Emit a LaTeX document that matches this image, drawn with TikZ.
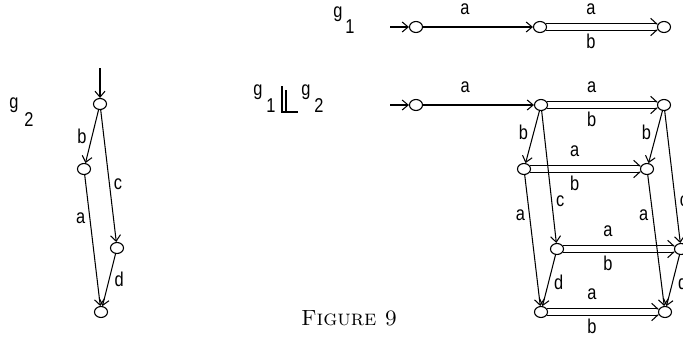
\documentclass[tikz,border=0pt]{standalone}
\usepackage{fontspec}
\newfontfamily\lab[FakeStretch=0.82]{Liberation Sans}
\usetikzlibrary{arrows.meta,shapes.geometric}
\newcommand\twoarr[4]{%
  \draw[ln,-{Straight Barb[left,length=6pt,width=11pt]}] (#1.28) -- (#2.152);
  \draw[ln,-{Straight Barb[right,length=6pt,width=11pt]}] (#1.-28) -- (#2.-152);
  \path (#1) -- node[lb,pos=0.4,yshift=18pt]{#3} node[lb,pos=0.4,yshift=-14pt]{#4} (#2);}
\begin{document}
\begin{tikzpicture}[x=1pt,y=-1pt,
  st/.style={draw,ellipse,minimum width=13pt,minimum height=11pt,inner sep=0pt,line width=1.1pt},
  ln/.style={line width=1.05pt},
  ar/.style={ln,-{Straight Barb[length=6pt,width=10pt]}},
  lb/.style={font=\lab\fontsize{20}{20}\selectfont,inner sep=0pt},
  gl/.style={font=\lab\fontsize{20}{20}\selectfont,inner sep=0pt}]
\useasboundingbox (0,0) rectangle (683,338);
\clip (0,0) rectangle (683,338);

% ---- g2 ----
\node[gl] (g2g) at (14,105) {g};
\node[gl] (g2i) at (29,120) {2};
\coordinate (t0) at (100,68);
\node[st] (N1) at (100,104) {};
\node[st] (N2) at (84,169) {};
\node[st] (N3) at (117,248) {};
\node[st] (N4) at (101,312) {};
\draw[ar] (t0) -- (N1);
\draw[ar] (N1) -- node[lb,pos=0.49,left=5pt]{b} (N2);
\draw[ar] (N1) -- node[lb,pos=0.56,right=4pt]{c} (N3);
\draw[ar] (N2) -- node[lb,pos=0.33,left=4pt]{a} (N4);
\draw[ar] (N3) -- node[lb,pos=0.49,right=5pt]{d} (N4);

% ---- g1 ----
\node[gl] (g1g) at (338,14) {g};
\node[gl] (g1i) at (350,27) {1};
\coordinate (s0) at (390,27);
\node[st] (P1) at (416,27) {};
\node[st] (P2) at (540,27) {};
\node[st] (P3) at (664,27) {};
\draw[ar] (s0) -- (P1);
\draw[ar] (P1) -- node[lb,pos=0.38,yshift=18pt]{a} (P2);
\twoarr{P2}{P3}{a}{b}

% ---- g1 shuffle g2 ----
\node[gl] (sg1) at (258,92) {g};
\node[gl] (si1) at (271,106) {1};
\draw[line width=1.1pt] (282,86) -- (282,112) -- (298,112);
\draw[line width=1.1pt] (286,90) -- (286,112);
\node[gl] (sg2) at (306,92) {g};
\node[gl] (si2) at (319,106) {2};

\coordinate (u0) at (390,105);
\node[st] (Q) at (416,105) {};
\node[st] (A) at (541,105) {};
\node[st] (B) at (664,105) {};
\node[st] (C) at (524,169) {};
\node[st] (D) at (647,169) {};
\node[st] (E) at (557,249) {};
\node[st] (F) at (681,249) {};
\node[st] (G) at (541,312) {};
\node[st] (H) at (665,312) {};
\draw[ar] (u0) -- (Q);
\draw[ar] (Q) -- node[lb,pos=0.38,yshift=18pt]{a} (A);
\twoarr{A}{B}{a}{b}
\twoarr{C}{D}{a}{b}
\twoarr{E}{F}{a}{b}
\twoarr{G}{H}{a}{b}
\draw[ar] (A) -- node[lb,pos=0.42,left=5pt]{b} (C);
\draw[ar] (B) -- node[lb,pos=0.42,left=5pt]{b} (D);
\draw[ar] (A) -- node[lb,pos=0.68,right=4pt]{c} (E);
\draw[ar] (B) -- node[lb,pos=0.68,right=4pt]{c} (F);
\draw[ar] (C) -- node[lb,pos=0.31,left=4pt]{a} (G);
\draw[ar] (D) -- node[lb,pos=0.31,left=4pt]{a} (H);
\draw[ar] (E) -- node[lb,pos=0.53,right=5pt]{d} (G);
\draw[ar] (F) -- node[lb,pos=0.53,right=5pt]{d} (H);

\node[font=\fontsize{22}{22}\selectfont\scshape,inner sep=0pt] (cap) at (349,318) {Figure 9};
\end{tikzpicture}
\end{document}
